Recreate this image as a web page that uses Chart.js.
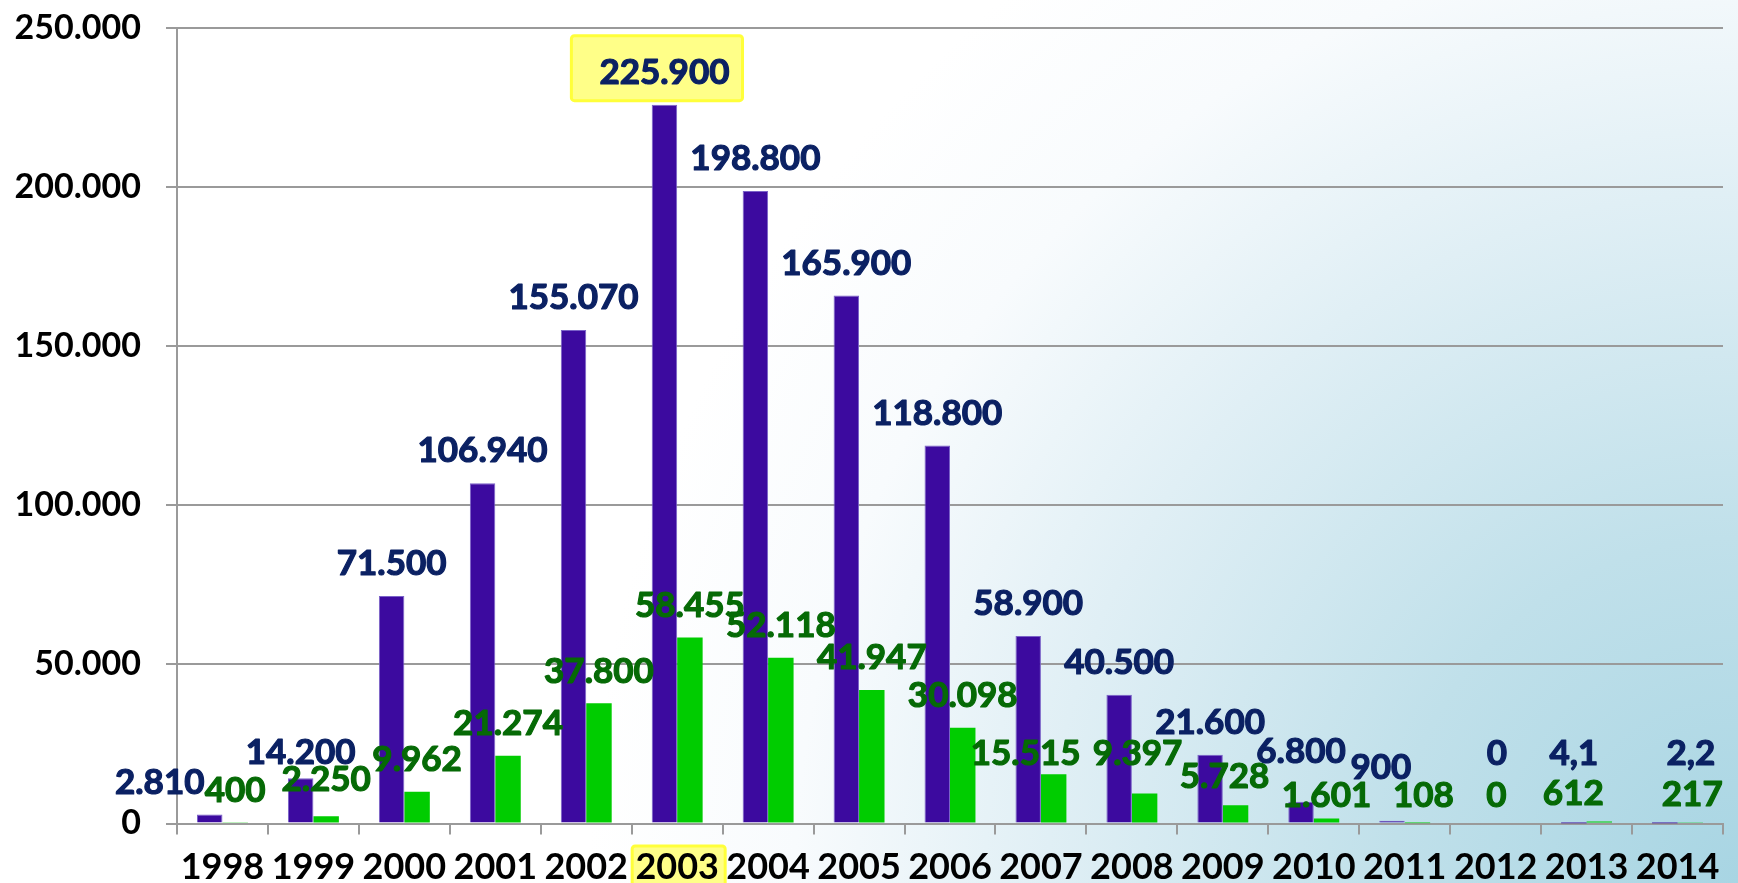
<!DOCTYPE html>
<html lang="es">
<head>
  <meta charset="UTF-8">
  <title>Gráfico de barras 1998-2014</title>
  <script src="https://cdn.jsdelivr.net/npm/chart.js"></script>
  <style>
    html, body { margin: 0; padding: 0; background: #fff; }
    #grafico { display: block; }
  </style>
</head>
<body>

  <canvas id="grafico" width="1738" height="883"></canvas>

  <script>
    // Datos
    const years = ['1998', '1999', '2000', '2001', '2002', '2003', '2004', '2005', '2006',
                   '2007', '2008', '2009', '2010', '2011', '2012', '2013', '2014'];
    const serieAzul = [2810, 14200, 71500, 106940, 155070, 225900, 198800, 165900, 118800,
                       58900, 40500, 21600, 6800, 900, 0, 4.1, 2.2];
    const serieVerde = [400, 2250, 9962, 21274, 37800, 58455, 52118, 41947, 30098,
                        15515, 9397, 5728, 1601, 108, 0, 612, 217];
    const yTicks = [0, 50000, 100000, 150000, 200000, 250000];
    const destacado = 5; // 2003

    const FONT = 'Lato, "DejaVu Sans", sans-serif';

    // formato es: 225.900 / 4,1
    function fmt(v) {
      const ent = Math.floor(v);
      const dec = Math.round((v - ent) * 10);
      let s = String(ent).replace(/\B(?=(\d{3})+(?!\d))/g, '.');
      if (dec) s += ',' + dec;
      return s;
    }

    // ajustes manuales de etiquetas (px) [dx, dy]
    const ajusteEtiquetas = [
      { 0: [-50, 0], 1: [0, 6], 12: [0, -18], 13: [-11, -21], 14: [14, -38], 15: [0, -38], 16: [26, -38] },
      { 1: [0, -5], 9: [-28, 12], 10: [-7, -8], 11: [-11, 3], 12: [0, 9], 13: [6, 5], 14: [-12, 4], 15: [-26, 4], 16: [2, 4] }
    ];
    const coloresEtiqueta = ['#0B2163', '#066A06'];

    function cajaAmarilla(ctx, x, y, w, h) {
      ctx.save();
      ctx.fillStyle = '#FFFF88';
      ctx.strokeStyle = '#FFFF3A';
      ctx.lineWidth = 3;
      ctx.beginPath();
      ctx.roundRect(x, y, w, h, 3);
      ctx.fill();
      ctx.stroke();
      ctx.restore();
    }

    const fondo = {
      id: 'fondo',
      beforeDraw(chart) {
        const ctx = chart.ctx;
        const W = chart.width, H = chart.height;
        ctx.save();
        ctx.fillStyle = '#fff';
        ctx.fillRect(0, 0, W, H);
        const g = ctx.createRadialGradient(W, H, 0, W, H, 1150);
        g.addColorStop(0, '#A8D5E3');
        g.addColorStop(0.3, '#C0E0EA');
        g.addColorStop(0.6, '#E0EFF5');
        g.addColorStop(0.82, '#F8FBFD');
        g.addColorStop(1, '#FFFFFF');
        ctx.fillStyle = g;
        ctx.fillRect(0, 0, W, H);
        ctx.restore();
        // resaltado del año 2003
        const xs = chart.scales.x;
        const cx = xs.getPixelForValue(destacado);
        cajaAmarilla(ctx, cx - 45, 846, 93, 45);
      }
    };

    const etiquetas = {
      id: 'etiquetas',
      afterDatasetsDraw(chart) {
        const ctx = chart.ctx;
        ctx.save();
        ctx.font = 'bold 35px ' + FONT;
        ctx.textAlign = 'center';
        ctx.textBaseline = 'middle';
        ctx.lineWidth = 1.2;
        ctx.lineJoin = 'round';
        chart.data.datasets.forEach((ds, di) => {
          const meta = chart.getDatasetMeta(di);
          meta.data.forEach((bar, i) => {
            const adj = ajusteEtiquetas[di][i] || [0, 0];
            const x = bar.x + adj[0];
            const y = bar.y - 32 + adj[1];
            const txt = fmt(ds.data[i]);
            if (di === 0 && i === destacado) {
              const w = ctx.measureText(txt).width;
              cajaAmarilla(ctx, x - w / 2 - 28, y - 37, w + 41, 65);
            }
            ctx.fillStyle = coloresEtiqueta[di];
            ctx.strokeStyle = coloresEtiqueta[di];
            ctx.fillText(txt, x, y);
            ctx.strokeText(txt, x, y);
          });
        });
        ctx.restore();
      }
    };

    const ctx = document.getElementById('grafico').getContext('2d');
    const chart = new Chart(ctx, {
      type: 'bar',
      data: {
        labels: years,
        datasets: [
          {
            label: 'Serie 1',
            data: serieAzul,
            backgroundColor: '#3C0A9F',
            borderColor: '#7A62C8',
            borderWidth: c => (c.raw > 500 ? 1 : 0),
            barPercentage: 1,
            categoryPercentage: 0.56
          },
          {
            label: 'Serie 2',
            data: serieVerde,
            backgroundColor: '#00CC00',
            borderWidth: 0,
            barPercentage: 1,
            categoryPercentage: 0.56
          }
        ]
      },
      options: {
        responsive: false,
        animation: false,
        layout: { padding: { top: 28, right: 15, left: 0, bottom: 0 } },
        plugins: {
          legend: { display: false },
          tooltip: { enabled: false }
        },
        scales: {
          x: {
            grid: {
              display: true,
              drawOnChartArea: false,
              tickLength: 11,
              color: '#9A9A9A',
              lineWidth: 2,
              offset: true
            },
            border: { display: true, color: '#9A9A9A', width: 2 },
            ticks: {
              color: '#000',
              font: { family: FONT, size: 36, weight: 'bold' },
              padding: 11,
              maxRotation: 0,
              autoSkip: false
            },
            afterFit(scale) {
              scale.height = 59.5;
              scale.paddingLeft = 0;
              scale.paddingRight = 0;
            }
          },
          y: {
            min: 0,
            max: 250000,
            afterBuildTicks(scale) { scale.ticks = yTicks.map(v => ({ value: v })); },
            ticks: {
              color: '#000',
              font: { family: FONT, size: 34, weight: 'bold' },
              padding: 25,
              callback: v => fmt(v)
            },
            grid: { color: '#9A9A9A', lineWidth: 2, tickLength: 11 },
            border: { display: true, color: '#9A9A9A', width: 2 },
            afterFit(scale) {
              scale.width = 177;
              scale.paddingTop = 0;
              scale.paddingBottom = 0;
            }
          }
        }
      },
      plugins: [fondo, etiquetas]
    });
  </script>
</body>
</html>
